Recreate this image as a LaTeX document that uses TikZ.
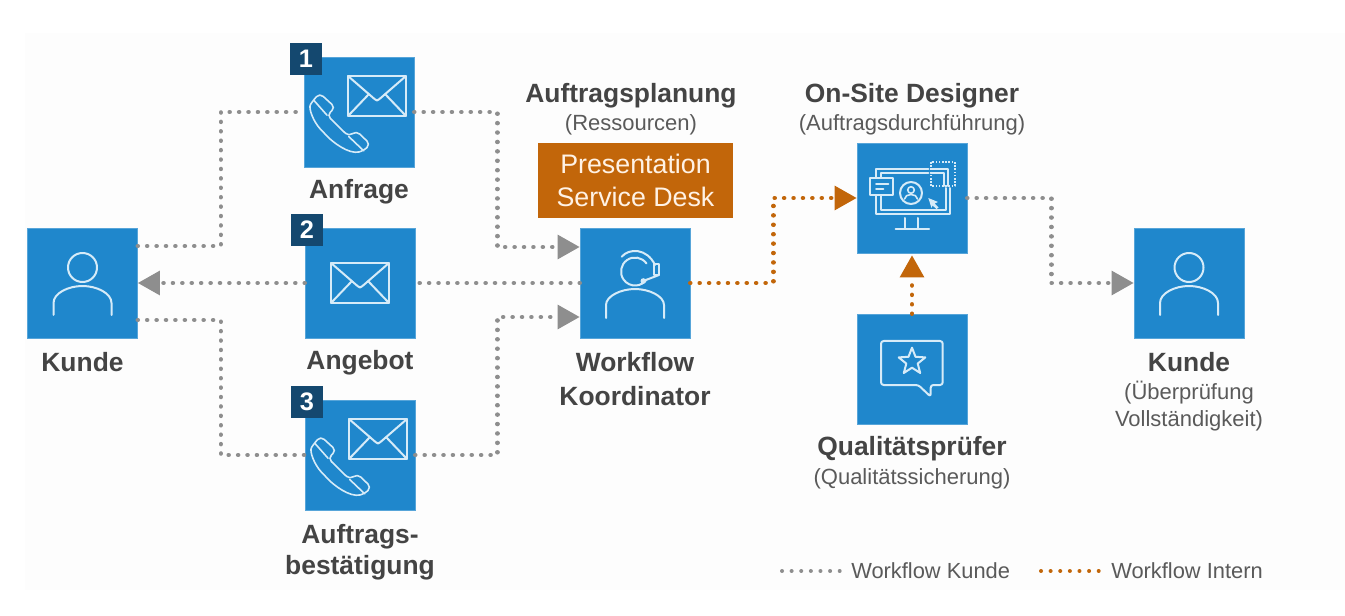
\documentclass[tikz,border=0pt]{standalone}
\usepackage{fontspec}
\setmainfont{Liberation Sans}
\usepackage{xcolor}
\usetikzlibrary{calc,arrows.meta}
\definecolor{boxblue}{HTML}{1F87CC}
\definecolor{badgeblue}{HTML}{14486F}
\definecolor{deskorange}{HTML}{C2660A}
\definecolor{flowgrey}{HTML}{8E8E8E}
\definecolor{titlegrey}{HTML}{444444}
\definecolor{subgrey}{HTML}{5A5A5A}
\definecolor{iconline}{HTML}{D6EBF8}
\definecolor{paper}{HTML}{FDFDFD}
\tikzset{
  box/.style={fill=boxblue, draw=boxblue!75!white, line width=0.4pt, minimum size=82.5pt, inner sep=0pt},
  badge/.style={fill=badgeblue, text=white, minimum size=24pt, inner sep=0pt, font=\fontsize{19}{22}\selectfont\bfseries},
  desk/.style={fill=deskorange, text=white!90!orange, minimum width=146pt, minimum height=56pt, inner sep=0pt, align=center, font=\fontsize{20.1}{25}\selectfont},
  title/.style={text=titlegrey, inner sep=0pt, align=center, font=\fontsize{19.8}{25.5}\selectfont\bfseries},
  sub/.style={text=subgrey, inner sep=0pt, align=center, font=\fontsize{16.5}{20.5}\selectfont},
  legend/.style={text=subgrey, inner sep=0pt, anchor=west, font=\fontsize{16.4}{20}\selectfont},
  dots/.style={line width=3.4pt, line cap=round, dash pattern=on 0.01pt off 7.05pt},
  kundeflow/.style={dots, flowgrey, -{Triangle[length=16.5pt,width=17.5pt]}},
  kundeline/.style={dots, flowgrey},
  internflow/.style={dots, deskorange, -{Triangle[length=16.5pt,width=17.5pt]}},
  internline/.style={dots, deskorange},
  icon/.style={draw=iconline, line width=1.5pt, line cap=round, line join=round},
  personicon/.pic={
    \draw[icon] (0,-15.5) circle (14.5);
    \draw[icon] (-29,32) -- (-29,20) .. controls (-29,10) and (-14,3) .. (0,3) .. controls (14,3) and (29,10) .. (29,20) -- (29,32);
  },
  headseticon/.pic={
    \draw[icon] (11.5,-19.5) arc (-35:-325:14);
    \draw[icon] (-13.3,-26.3) .. controls (-6,-35) and (12,-35) .. (20,-18);
    \draw[icon] (19.3,-18.7) rectangle (24,-8);
    \draw[icon] (24,-8) -- (8.3,-2);
    \fill[iconline] (8.3,-2) circle (2.8);
    \draw[icon] (-29,35) -- (-29,22) .. controls (-29,13) and (-14,6) .. (0,6) .. controls (14,6) and (29,13) .. (29,22) -- (29,35);
  },
  mailicon/.pic={
    \draw[icon] (-29,-20) rectangle (29,20);
    \draw[icon] (-29,-20) -- (-2.5,3) -- (0,4.5) -- (2.5,3) -- (29,-20);
    \draw[icon] (-29,20) -- (-8,-2);
    \draw[icon] (29,20) -- (8,-2);
  },
  phoneicon/.pic={
    \draw[icon, line width=1.2pt, rounded corners=3.5pt] (-21.3,-29.3) -- (-5.7,-15) -- (-14,-7.3) -- (7.7,14) -- (15.3,8.3) -- (29.3,21.7) -- (22.7,28.3) .. controls (8,32) and (-8,20) .. (-17.3,10) .. controls (-27,0) and (-33,-14) .. (-28,-22) -- cycle;
    \draw[icon, line width=1.2pt] (-27,-22) -- (-14,-7.3);
    \draw[icon, line width=1.2pt] (7.7,14) -- (22.7,28.3);
  },
  callicon/.pic={
    \pic at (18,-16) {mailicon};
    \pic at (-18,10.5) {phoneicon};
  },
  screenicon/.pic={
    % monitor frame, open where the card and the dotted square sit
    \draw[icon] (-36,-20.7) -- (-36,-29.3) -- (16.3,-29.3);
    \draw[icon] (-31.3,-20.7) -- (-31.3,-25) -- (16.3,-25);
    \draw[icon] (-36,-2.7) -- (-36,16) -- (38,16) -- (38,-10);
    \draw[icon] (-31.3,-2.7) -- (-31.3,11.7) -- (34,11.7) -- (34,-10);
    \draw[icon] (-7,20) -- (-7,30.7) (6.3,20) -- (6.3,30.7) (-16.3,30.7) -- (17,30.7);
    \draw[icon] (-42,-20) rectangle (-18.7,-2.7);
    \draw[icon] (-36,-14) -- (-23.7,-14) (-36,-9.3) -- (-28.7,-9.3);
    \draw[icon] (-1,-5) circle (11);
    \draw[icon, line width=1.2pt] (-1,-8) circle (3.3);
    \draw[icon, line width=1.2pt] (-7.5,1) .. controls (-7,-5) and (5,-5) .. (5.5,1);
    \fill[iconline] (16.3,0) -- (26,4) -- (22.5,5.5) -- (26.5,9.5) -- (24.5,11) -- (20.5,7.5) -- (19.5,10) -- cycle;
    \draw[icon, dash pattern=on 1.2pt off 1.2pt, line cap=butt] (18.7,-36) rectangle (42.7,-12);
    \draw[icon] (18.7,-29.3) -- (36.3,-29.3) -- (36.3,-12) (18.7,-25) -- (32,-25) -- (32,-12);
  },
  bubbleicon/.pic={
    \draw[icon, rounded corners=2pt] (6.3,16) -- (-31,16) -- (-31,-28) -- (30.7,-28) -- (30.7,16) -- (18.7,16) -- (18.7,27.7) -- cycle;
    \draw[icon] (0,-21.3) -- (3.5,-12.2) -- (13.3,-11.6) -- (5.7,-5.4) -- (8.2,4) -- (0,-1.3) -- (-8.2,4) -- (-5.7,-5.4) -- (-13.3,-11.6) -- (-3.5,-12.2) -- cycle;
  },
}

\begin{document}
\begin{tikzpicture}[x=0.75pt,y=-0.75pt]
        \useasboundingbox (0,0) rectangle (1345,616);
        \fill[white] (0,0) rectangle (1345,616);
        \fill[paper] (25,33) rectangle (1345,590);

        % blue boxes
        \node[box] (kundeA) at (82.5,283) {};
        \node[box] (anfrage) at (359,112) {};
        \node[box] (angebot) at (360,283) {};
        \node[box] (bestaetigung) at (360,455) {};
        \node[box] (koordinator) at (635,283) {};
        \node[box] (designer) at (912,198) {};
        \node[box] (pruefer) at (912,369) {};
        \node[box] (kundeB) at (1189,283) {};

        \node[badge] (badgeA) at (306,59) {1};
        \node[badge] (badgeB) at (307,230) {2};
        \node[badge] (badgeC) at (307,402) {3};
        \node[desk] (desk) at (635.5,180.5) {Presentation\\Service Desk};

        \pic at (kundeA) {personicon};
        \pic at (anfrage) {callicon};
        \pic at (angebot) {mailicon};
        \pic at (bestaetigung) {callicon};
        \pic at (koordinator) {headseticon};
        \pic at (designer) {screenicon};
        \pic at (pruefer) {bubbleicon};
        \pic at (kundeB) {personicon};

        % customer workflow
        \draw[kundeline] ($(kundeA.east)+(0,-37)$) -- ++(83,0) |- (anfrage.west);
        \draw[kundeflow] (anfrage.east) -- ++(83,0) |- ($(koordinator.west)+(0,-36)$);
        \draw[kundeflow] (angebot.west) -- (kundeA.east);
        \draw[kundeline] (koordinator.west) -- (angebot.east);
        \draw[kundeline] ($(kundeA.east)+(0,37)$) -- ++(83,0) |- (bestaetigung.west);
        \draw[kundeflow] (bestaetigung.east) -- ++(82,0) |- ($(koordinator.west)+(0,34)$);
        \draw[kundeflow] (designer.east) -- ++(84,0) |- (kundeB.west);

        % internal workflow
        \draw[internflow] (koordinator.east) -- ++(83,0) |- (designer.west);
        \draw[internflow] (pruefer.north) -- ($(designer.south)+(0,2)$);

        % labels
        \node[title] (anfrageText) at (359,191.5) {Anfrage};
        \node[title] (angebotText) at (360,363) {Angebot};
        \node[title, font=\fontsize{19.8}{23.5}\selectfont\bfseries] (bestaetigungText) at (360,552) {Auftrags-\\bestätigung};
        \node[title] (kundeAText) at (82.5,362) {Kunde};
        \node[title] (planungText) at (631,96) {Auftragsplanung};
        \node[sub] (ressourcenText) at (631,125) {(Ressourcen)};
        \node[title] (designerText) at (912,96) {On-Site Designer};
        \node[sub] (durchfuehrungText) at (912,125) {(Auftragsdurchführung)};
        \node[title] (koordinatorText) at (635,379.5) {Workflow\\Koordinator};
        \node[title] (prueferText) at (912,449) {Qualitätsprüfer};
        \node[sub] (sicherungText) at (912,479) {(Qualitätssicherung)};
        \node[title] (kundeBText) at (1189,362) {Kunde};
        \node[sub] (pruefungText) at (1189,406) {(Überprüfung\\Vollständigkeit)};

        % legend
        \node[legend] (legendKunde) at (851,571) {Workflow Kunde};
        \node[legend] (legendIntern) at (1111,571) {Workflow Intern};
        \coordinate (startKunde) at (782,571);
        \coordinate (startIntern) at (1041,571);
        \draw[kundeline, line width=3pt, dash pattern=on 0.01pt off 7.2pt, shorten >=8pt] (startKunde) -- (legendKunde.west);
        \draw[internline, line width=3pt, dash pattern=on 0.01pt off 7.2pt, shorten >=8pt] (startIntern) -- (legendIntern.west);
      \end{tikzpicture}
\end{document}
